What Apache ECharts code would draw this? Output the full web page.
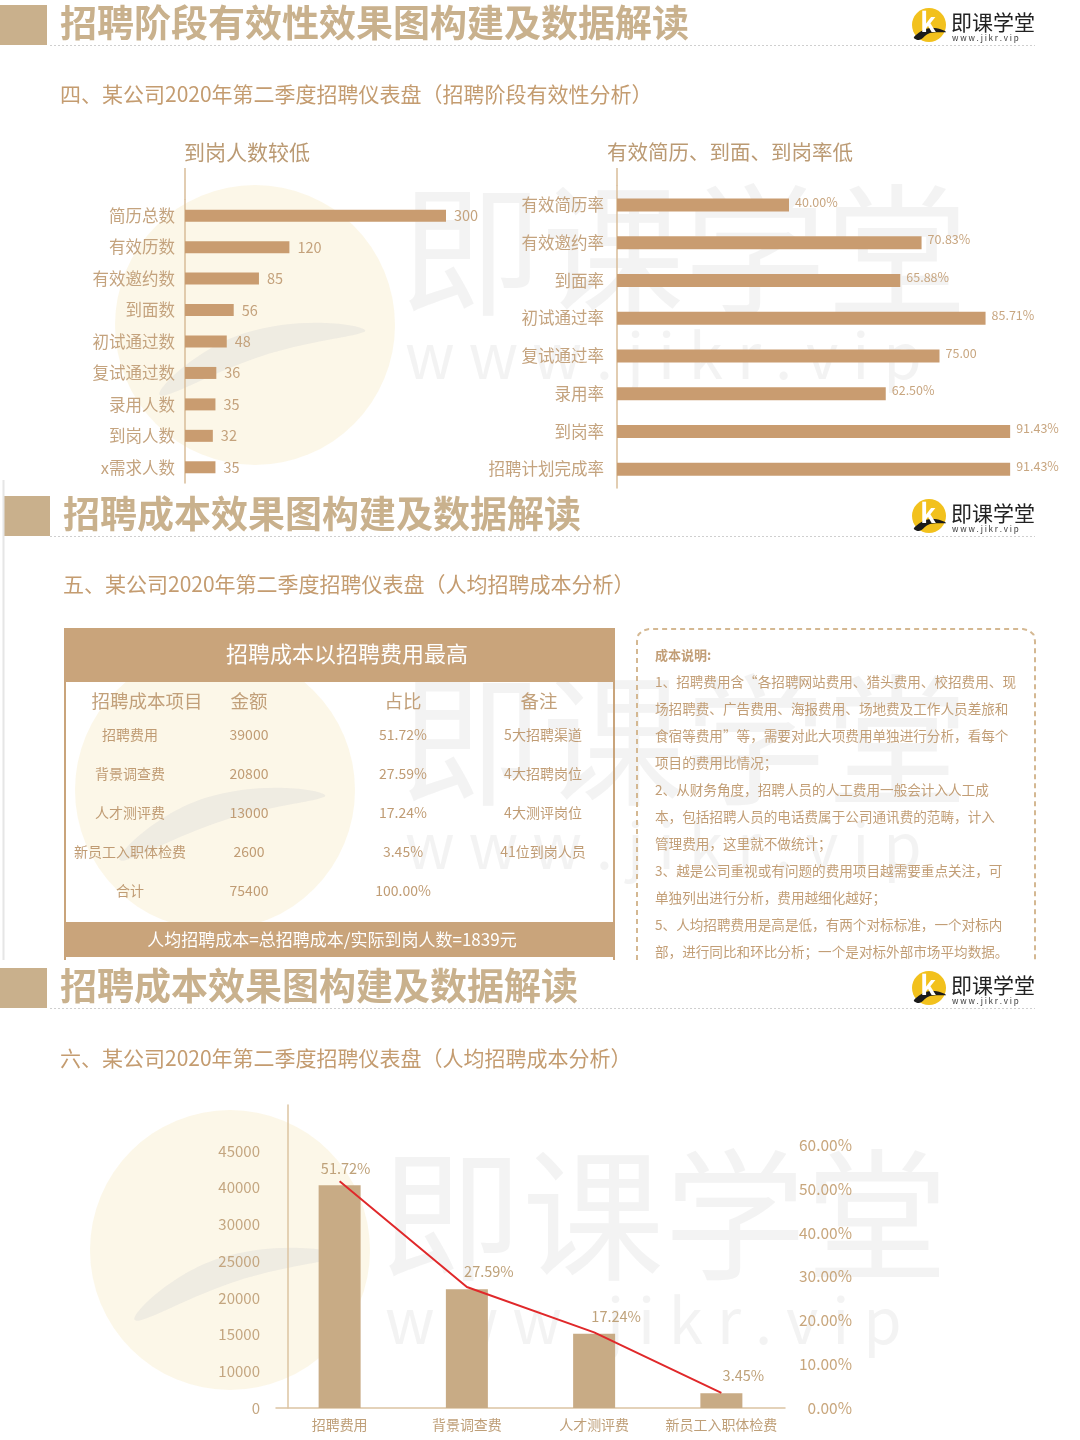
<!DOCTYPE html>
<html>
<head>
<meta charset="utf-8">
<script src="https://cdn.jsdelivr.net/npm/echarts@6/dist/echarts.min.js"></script>
<style>
html,body{margin:0;padding:0;background:#fff;}
#main{width:1080px;height:1440px;}
</style>
</head>
<body>
<div id="main"></div>
<script>
// 招聘阶段人数
var stageCats = ['简历总数','有效历数','有效邀约数','到面数','初试通过数','复试通过数','录用人数','到岗人数','x需求人数'];
var stageVals = [300,120,85,56,48,36,35,32,35];
// 各阶段比率
var rateCats = ['有效简历率','有效邀约率','到面率','初试通过率','复试通过率','录用率','到岗率','招聘计划完成率'];
var rateVals = [40.00,70.83,65.88,85.71,75.00,62.50,91.43,91.43];
var rateLabels = ['40.00%','70.83%','65.88%','85.71%','75.00','62.50%','91.43%','91.43%'];
// 招聘成本
var costItems = ['招聘费用','背景调查费','人才测评费','新员工入职体检费'];
var costAmounts = [39000,20800,13000,2600];
var costPcts = [51.72,27.59,17.24,3.45];
var costPctText = ['51.72%','27.59%','17.24%','3.45%'];
var costNotes = ['5大招聘渠道','4大招聘岗位','4大测评岗位','41位到岗人员'];
var costTotal = ['合计','75400','100.00%',''];
var costHeads = ['招聘成本项目','金额','占比','备注'];
var amountTicks = ['0','10000','15000','20000','25000','30000','40000','45000'];
var noteLines = [
  '成本说明:',
  '1、招聘费用含“各招聘网站费用、猎头费用、校招费用、现',
  '场招聘费、广告费用、海报费用、场地费及工作人员差旅和',
  '食宿等费用”等，需要对此大项费用单独进行分析，看每个',
  '项目的费用比情况；',
  '2、从财务角度，招聘人员的人工费用一般会计入人工成',
  '本，包括招聘人员的电话费属于公司通讯费的范畴，计入',
  '管理费用，这里就不做统计；',
  '3、越是公司重视或有问题的费用项目越需要重点关注，可',
  '单独列出进行分析，费用越细化越好；',
  '5、人均招聘费用是高是低，有两个对标标准，一个对标内',
  '部，进行同比和环比分析；一个是对标外部市场平均数据。'
];

var FONT = '"Noto Sans CJK SC", "Noto Sans", sans-serif';
var myChart = echarts.init(document.getElementById('main'));

var g = [];   // graphic 元素
function txt(x, y, s, size, color, opt) {
  opt = opt || {};
  g.push({type:'text', x:x, y:y, z: opt.z || 5, style:{text:s, fontSize:size, fill:color, fontFamily:FONT,
    fontWeight: opt.bold ? 'bold' : 'normal', textAlign: opt.align || 'left', textVerticalAlign:'middle'}});
}
function line(x1, y1, x2, y2, color, w, dash) {
  g.push({type:'line', z:4, shape:{x1:x1,y1:y1,x2:x2,y2:y2}, style:{stroke:color, lineWidth:w||1, lineDash:dash||null}});
}
function rect(x, y, w, h, color, z) {
  g.push({type:'rect', z:z||3, shape:{x:x,y:y,width:w,height:h}, style:{fill:color}});
}
// 水印
function watermark(cx, cy, tx, ty) {
  g.push({type:'circle', z:0, shape:{cx:cx, cy:cy, r:140}, style:{fill:'rgba(248,238,205,0.45)'}});
  g.push({type:'polygon', z:0, shape:{smooth:0.5, points:[[cx-95,cy+70],[cx-10,cy+8],[cx+110,cy+5],[cx+10,cy+30]]},
    style:{fill:'rgba(215,215,215,0.35)'}});
  g.push({type:'text', z:0, x:tx, y:ty, style:{text:'即课学堂', fontSize:142, fill:'rgba(215,215,215,0.3)', fontFamily:FONT, textVerticalAlign:'middle'}});
  g.push({type:'text', z:0, x:tx+5, y:ty+105, style:{text:'w w w . j i k r . v i p', fontSize:62, fill:'rgba(215,215,215,0.3)', fontFamily:FONT, textVerticalAlign:'middle'}});
}
// 标题栏 + logo
function header(bx, tx, cy, title) {
  rect(bx, cy-20, 47, 40, '#c9b08c');
  txt(tx, cy-2, title, 37, '#c9b18d', {bold:true});
  line(50, cy+20.5, 1035, cy+20.5, '#cfcfcf', 1, [2,2]);
  g.push({type:'circle', z:5, shape:{cx:929, cy:cy, r:17}, style:{fill:'#f2c11d'}});
  g.push({type:'polygon', z:6, shape:{smooth:0.4, points:[[914,cy+12],[930,cy+3],[946,cy+7],[930,cy+8],[919,cy+15]]}, style:{fill:'#1a1a1a'}});
  txt(928, cy-3, 'k', 26, '#ffffff', {bold:true, align:'center', z:7});
  txt(951, cy-3, '即课学堂', 21, '#222222');
  txt(952, cy+13, 'w w w . j i k r . v i p', 8, '#333333');
}

// ---------- 第一部分 ----------
watermark(255, 325, 400, 250);
header(0, 60, 25, '招聘阶段有效性效果图构建及数据解读');
txt(60, 94, '四、某公司2020年第二季度招聘仪表盘（招聘阶段有效性分析）', 21, '#c49c70');
txt(247, 152, '到岗人数较低', 21, '#bb9a73', {align:'center'});
txt(730, 152, '有效简历、到面、到岗率低', 20.5, '#bb9a73', {align:'center'});
line(185, 168, 185, 200, '#d8bc98', 1.5);
line(617, 168, 617, 186, '#d8bc98', 1.5);

// ---------- 第二部分 ----------
watermark(215, 790, 400, 740);
line(3.5, 480, 3.5, 960, '#e6e6e6', 2);
header(3, 63, 516, '招聘成本效果图构建及数据解读');
txt(63, 584, '五、某公司2020年第二季度招聘仪表盘（人均招聘成本分析）', 21, '#c49c70');
// 表格
rect(64, 628, 551, 54, '#c9a47b');
txt(347, 654, '招聘成本以招聘费用最高', 22, '#ffffff', {align:'center'});
line(65, 628, 65, 960, '#c9a47b', 2);
line(614, 628, 614, 960, '#c9a47b', 2);
var colX = [130, 249, 403, 543];
var headX = [147, 249, 403, 539];
costHeads.forEach(function (h, i) { txt(headX[i], 701, h, 18.5, '#c2a07a', {align:'center'}); });
costItems.forEach(function (item, r) {
  var row = [item, String(costAmounts[r]), costPctText[r], costNotes[r]];
  row.forEach(function (s, c) { txt(colX[c], 735 + r * 39, s, 14, '#c09c74', {align:'center'}); });
});
costTotal.forEach(function (s, c) { txt(colX[c], 891, s, 14, '#c09c74', {align:'center'}); });
rect(64, 922, 551, 35, '#c9a47b');
txt(332, 940, '人均招聘成本=总招聘成本/实际到岗人数=1839元', 17, '#ffffff', {align:'center'});
// 成本说明 虚线框
g.push({type:'polyline', z:4, shape:{points:[[637,960],[637,641],[638.5,634.5],[643,630.5],[649,629],[1023,629],[1029,630.5],[1033.5,634.5],[1035,641],[1035,960]]},
  style:{fill:null, stroke:'#d4b892', lineWidth:2, lineDash:[5,4]}});
noteLines.forEach(function (s, i) {
  txt(655, 655 + i * 27, s, i === 0 ? 13 : 13.6, '#c29e76', {bold: i === 0});
});

// ---------- 第三部分 ----------
watermark(230, 1250, 380, 1215);
header(0, 60, 988, '招聘成本效果图构建及数据解读');
txt(60, 1058, '六、某公司2020年第二季度招聘仪表盘（人均招聘成本分析）', 21, '#c49c70');

var step = 45000 / 7;
var option = {
  backgroundColor: '#fff',
  animation: false,
  textStyle: {fontFamily: FONT},
  graphic: {elements: g},
  grid: [
    {left:185, top:200, width:261, height:283},
    {left:617, top:186, width:430, height:302},
    {left:276, top:1105, width:509, height:303}
  ],
  xAxis: [
    {gridIndex:0, type:'value', min:0, max:300, show:false},
    {gridIndex:1, type:'value', min:0, max:100, show:false},
    {gridIndex:2, type:'category', data:costItems, z:10,
      axisLine:{lineStyle:{color:'#dcc4a2', width:1.5}}, axisTick:{show:false},
      axisLabel:{color:'#bf9f78', fontSize:14, margin:10, interval:0}}
  ],
  yAxis: [
    {gridIndex:0, type:'category', data:stageCats, inverse:true, z:10,
      axisLine:{lineStyle:{color:'#d8bc98', width:1.5}}, axisTick:{show:false},
      axisLabel:{color:'#c4a37e', fontSize:16.5, margin:10}},
    {gridIndex:1, type:'category', data:rateCats, inverse:true, z:10,
      axisLine:{lineStyle:{color:'#d8bc98', width:1.5}}, axisTick:{show:false},
      axisLabel:{color:'#c4a37e', fontSize:16.5, margin:13}},
    {gridIndex:2, type:'value', min:0, max:45000 * 303 / 257, interval:step, offset:-12, z:10,
      splitLine:{show:false}, axisTick:{show:false},
      axisLine:{show:true, lineStyle:{color:'#dcc4a2', width:1.5}},
      axisLabel:{color:'#c4a680', fontSize:15, margin:28,
        formatter:function (v) { return amountTicks[Math.round(v / step)] || ''; }}},
    {gridIndex:2, type:'value', position:'right', min:0, max:60 * 303 / 263, interval:10, z:10,
      splitLine:{show:false}, axisTick:{show:false}, axisLine:{show:false},
      axisLabel:{color:'#c8a67c', fontSize:15.5, margin:67, align:'right',
        formatter:function (v) { return v > 60.5 ? '' : v.toFixed(2) + '%'; }}}
  ],
  series: [
    {
      type:'bar', xAxisIndex:0, yAxisIndex:0, data:stageVals, barWidth:12, z:10,
      itemStyle:{color:'#c99c70'},
      label:{show:true, position:'right', distance:8, color:'#c4a27c', fontSize:14.5}
    },
    {
      type:'bar', xAxisIndex:1, yAxisIndex:1, data:rateVals, barWidth:13, z:10,
      itemStyle:{color:'#c99c70'},
      label:{show:true, position:'right', distance:6, offset:[0,-3], color:'#c8a680', fontSize:12.5,
        formatter:function (p) { return rateLabels[p.dataIndex]; }}
    },
    {
      type:'bar', xAxisIndex:2, yAxisIndex:2, barWidth:42, z:10,
      data: costAmounts.map(function (v, i) {
        return {value:v, label:{offset:[i === 0 ? 6 : 22, -4]}};
      }),
      itemStyle:{color:'#c8ab85'},
      label:{show:true, position:'top', distance:6, color:'#bfa27a', fontSize:14.5,
        formatter:function (p) { return costPctText[p.dataIndex]; }}
    },
    {
      type:'line', xAxisIndex:2, yAxisIndex:3, data:costPcts, symbol:'none', z:11,
      lineStyle:{color:'#e0282a', width:2}, itemStyle:{color:'#e0282a'}
    }
  ]
};
myChart.setOption(option);
</script>
</body>
</html>
